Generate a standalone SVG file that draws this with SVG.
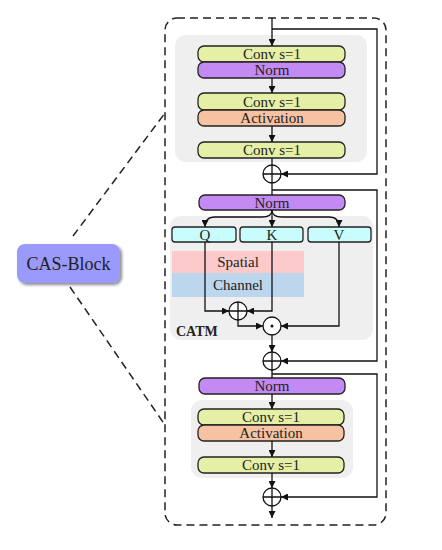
<svg xmlns="http://www.w3.org/2000/svg" width="442" height="550" viewBox="0 0 442 550">
<defs>
<marker id="ah" viewBox="0 0 10 10" refX="10" refY="5" markerWidth="8" markerHeight="7" markerUnits="userSpaceOnUse" orient="auto"><path d="M0,0 L10,5 L0,10 z" fill="#111"/></marker>
<filter id="sh" x="-20%" y="-20%" width="150%" height="160%"><feDropShadow dx="2" dy="2" stdDeviation="1.5" flood-color="#000" flood-opacity="0.45"/></filter>
</defs>
<style>
.t{font-family:"Liberation Serif","Times New Roman",serif;font-size:15px;fill:#222;text-anchor:middle;dominant-baseline:central}
.bx{stroke:#222;stroke-width:1.3}
.conv{fill:#e6efa6}
.norm{fill:#c28af2}
.act{fill:#f6c2a2}
.qkv{fill:#c9fdfd}
.gray{fill:#efefef}
.ln{fill:none;stroke:#111;stroke-width:1.3}
.cir{fill:#fff;stroke:#111;stroke-width:1.3}
.dash{fill:none;stroke:#222;stroke-width:1.5;stroke-dasharray:8,5}
</style>
<rect class="dash" x="165" y="18" width="221" height="507" rx="12"/>
<g id="gray1"><rect class="gray" x="175" y="35" width="192" height="127" rx="11"/></g>
<g id="gray2"><rect class="gray" x="170" y="216" width="203" height="124" rx="11"/></g>
<g id="gray3"><rect class="gray" x="191" y="400" width="162" height="78" rx="11"/></g>
<g id="cas"><rect x="17" y="244" width="103" height="39" rx="8" fill="#9a9afc" filter="url(#sh)"/><text class="t" x="68.5" y="264" style="font-size:18px">CAS-Block</text></g>
<g id="zoomlines"><path class="dash" d="M73,236 L165,113 M70,287 L165,425" stroke-width="1.3"/></g>
<g id="conv1"><rect class="bx conv" x="198" y="46" width="147" height="16" rx="6"/><text class="t" x="272" y="54">Conv s=1</text></g>
<g id="norm1"><rect class="bx norm" x="198" y="62" width="147" height="16" rx="6"/><text class="t" x="272" y="70">Norm</text></g>
<g id="conv2"><rect class="bx conv" x="198" y="93" width="147" height="17" rx="6"/><text class="t" x="272" y="101.5">Conv s=1</text></g>
<g id="act1"><rect class="bx act" x="198" y="110" width="147" height="16" rx="6"/><text class="t" x="272" y="118">Activation</text></g>
<g id="conv3"><rect class="bx conv" x="198" y="142" width="147" height="16" rx="6"/><text class="t" x="272" y="150">Conv s=1</text></g>
<g id="norm2"><rect class="bx norm" x="199" y="195" width="146" height="15" rx="6"/><text class="t" x="272" y="202.5">Norm</text></g>
<g id="q"><rect class="bx qkv" x="172" y="227" width="64" height="15" rx="3"/><text class="t" x="205" y="234.5">Q</text></g>
<g id="k"><rect class="bx qkv" x="240" y="227" width="63" height="15" rx="3"/><text class="t" x="272" y="234.5">K</text></g>
<g id="v"><rect class="bx qkv" x="308" y="227" width="63" height="15" rx="3"/><text class="t" x="339" y="234.5">V</text></g>
<g id="spatial"><rect x="172" y="251" width="132" height="22" fill="#fccaca"/><text class="t" x="238" y="262">Spatial</text></g>
<g id="channel"><rect x="172" y="273" width="132" height="24" fill="#bcd6ee"/><text class="t" x="238" y="285">Channel</text></g>
<g id="catm"><text x="176" y="336" style="font-family:'Liberation Serif','Times New Roman',serif;font-size:14px;font-weight:bold;fill:#222">CATM</text></g>
<g id="norm3"><rect class="bx norm" x="199" y="378" width="146" height="16" rx="6"/><text class="t" x="272" y="386">Norm</text></g>
<g id="conv4"><rect class="bx conv" x="198" y="409" width="146" height="16" rx="6"/><text class="t" x="271" y="417">Conv s=1</text></g>
<g id="act2"><rect class="bx act" x="198" y="425" width="146" height="16" rx="6"/><text class="t" x="271" y="433">Activation</text></g>
<g id="conv5"><rect class="bx conv" x="198" y="457" width="146" height="16" rx="6"/><text class="t" x="271" y="465">Conv s=1</text></g>
<g id="connectors">
<path class="ln" d="M272,18 V46" marker-end="url(#ah)"/>
<path class="ln" d="M272,29 H377 V174 H281" marker-end="url(#ah)"/>
<path class="ln" d="M272,78 V93" marker-end="url(#ah)"/>
<path class="ln" d="M272,126 V142" marker-end="url(#ah)"/>
<path class="ln" d="M272,158 V165"/>
<path class="ln" d="M272,183 V195"/>
<path class="ln" d="M272,190 H377 V361 H281" marker-end="url(#ah)"/>
<path class="ln" d="M272,210 Q272,217 262,217 H215 Q205,217 205,227" marker-end="url(#ah)"/>
<path class="ln" d="M272,210 V227" marker-end="url(#ah)"/>
<path class="ln" d="M272,210 Q272,217 282,217 H329 Q339,217 339,227" marker-end="url(#ah)"/>
<path class="ln" d="M205,242 V311 H229" marker-end="url(#ah)"/>
<path class="ln" d="M272,242 V311 H247" marker-end="url(#ah)"/>
<path class="ln" d="M238,320 V326 H263" marker-end="url(#ah)"/>
<path class="ln" d="M339,242 V326 H281" marker-end="url(#ah)"/>
<path class="ln" d="M272,335 V352" marker-end="url(#ah)"/>
<path class="ln" d="M272,370 V378"/>
<path class="ln" d="M272,374 H377 V497 H281" marker-end="url(#ah)"/>
<path class="ln" d="M272,394 V409" marker-end="url(#ah)"/>
<path class="ln" d="M272,441 V457" marker-end="url(#ah)"/>
<path class="ln" d="M272,473 V488" marker-end="url(#ah)"/>
<path class="ln" d="M272,506 V518" marker-end="url(#ah)"/>
</g>
<g id="add1"><circle class="cir" cx="272" cy="174" r="9"/><path class="ln" d="M263,174 H281 M272,165 V183"/></g>
<g id="add2"><circle class="cir" cx="238" cy="311" r="9"/><path class="ln" d="M229,311 H247 M238,302 V320"/></g>
<g id="mul"><circle class="cir" cx="272" cy="326" r="9"/><circle cx="272" cy="326" r="1.5" fill="#111"/></g>
<g id="add3"><circle class="cir" cx="272" cy="361" r="9"/><path class="ln" d="M263,361 H281 M272,352 V370"/></g>
<g id="add4"><circle class="cir" cx="272" cy="497" r="9"/><path class="ln" d="M263,497 H281 M272,488 V506"/></g>
</svg>
